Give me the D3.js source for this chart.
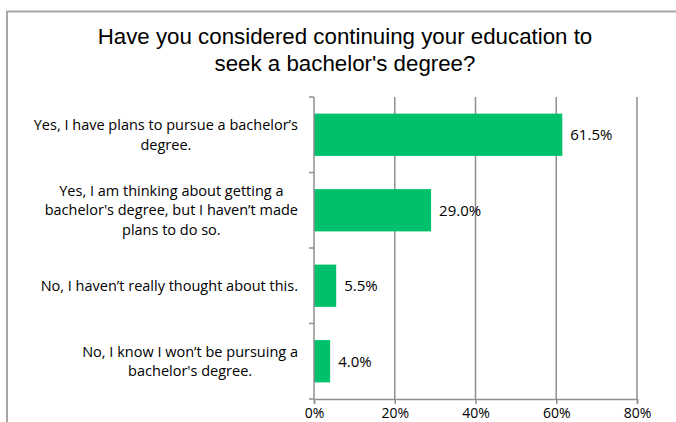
<!DOCTYPE html>
<html lang="en">
<head>
<meta charset="UTF-8">
<title>Bachelor's degree survey</title>
<script src="https://d3js.org/d3.v7.min.js"></script>
<style>
  body { margin: 0; background: #fff; }
  svg { display: block; }
  .cat-label, .val-label, .x.axis text { font-family: "Open Sans", sans-serif; fill: #000; }
  .title { font-family: "Liberation Sans", Arial, sans-serif; fill: #000; }
</style>
</head>
<body>
<script>
var categories = [
  ["Yes, I have plans to pursue a bachelor\u2019s", "degree."],
  ["Yes, I am thinking about getting a", "bachelor's degree, but I haven\u2019t made", "plans to do so."],
  ["No, I haven\u2019t really thought about this."],
  ["No, I know I won\u2019t be pursuing a", "bachelor's degree."]
];
var values = [61.5, 29.0, 5.5, 4.0];
var xTicks = [0, 20, 40, 60, 80];
var titleLines = ["Have you considered continuing your education to", "seek a bachelor's degree?"];

var W = 676, H = 422;
var margin = {top: 97, left: 314, right: 39, bottom: 23};
var width = W - margin.left - margin.right;
var height = H - margin.top - margin.bottom;

var svg = d3.select("body").append("svg")
    .attr("width", W)
    .attr("height", H);

// outer chart border (cropped screenshot: only left & top visible)
svg.append("path")
    .attr("d", "M7,422 V11.5 H676")
    .attr("fill", "none")
    .attr("stroke", "#a6a6a6")
    .attr("stroke-width", 2);

svg.selectAll(".title")
    .data(titleLines)
    .enter()
    .append("text")
    .classed("title", true)
    .attr("x", 345)
    .attr("y", function(d, i) { return 44 + i * 27; })
    .attr("text-anchor", "middle")
    .style("font-size", "22.3px")
    .text(function(d) { return d; });

var x = d3.scaleLinear().domain([0, 80]).range([0, width]);
var y = d3.scaleBand()
    .domain(d3.range(values.length))
    .range([0, height])
    .paddingInner(0.44)
    .paddingOuter(0.22);

var chart = svg.append("g")
    .attr("transform", "translate(" + margin.left + "," + margin.top + ")");

// vertical gridlines
chart.append("g")
    .selectAll("line")
    .data(xTicks.slice(1))
    .enter()
    .append("line")
    .attr("x1", function(d) { return x(d); })
    .attr("x2", function(d) { return x(d); })
    .attr("y1", 0)
    .attr("y2", height)
    .attr("stroke", "#8f8f8f")
    .attr("stroke-width", 1.5);

// bars
chart.selectAll(".bar")
    .data(values)
    .enter()
    .append("rect")
    .classed("bar", true)
    .attr("x", 0)
    .attr("y", function(d, i) { return y(i); })
    .attr("width", function(d) { return x(d); })
    .attr("height", y.bandwidth())
    .attr("fill", "#00c16b");

// value labels
chart.selectAll(".val-label")
    .data(values)
    .enter()
    .append("text")
    .classed("val-label", true)
    .attr("x", function(d) { return x(d) + 8; })
    .attr("y", function(d, i) { return y(i) + y.bandwidth() / 2; })
    .attr("dy", "0.35em")
    .style("font-size", "15px")
    .text(function(d) { return d.toFixed(1) + "%"; });

// x axis
var xAxis = d3.axisBottom(x)
    .tickValues(xTicks)
    .tickSize(5)
    .tickPadding(4)
    .tickFormat(function(d) { return d + "%"; });

var gx = chart.append("g")
    .classed("x axis", true)
    .attr("transform", "translate(0," + height + ")")
    .call(xAxis);
gx.select(".domain").attr("stroke", "#8f8f8f").attr("stroke-width", 1.5);
gx.selectAll(".tick line").attr("stroke", "#8f8f8f").attr("stroke-width", 1.5);
gx.selectAll("text").style("font-size", "14px").attr("fill", "#000");

// y axis line with category separators
var bandEdges = d3.range(values.length + 1).map(function(i) { return i * y.step(); });
chart.append("line")
    .attr("x1", 0).attr("x2", 0)
    .attr("y1", 0).attr("y2", height)
    .attr("stroke", "#8f8f8f")
    .attr("stroke-width", 1.5);
chart.append("g")
    .selectAll("line")
    .data(bandEdges)
    .enter()
    .append("line")
    .attr("x1", -5).attr("x2", 0)
    .attr("y1", function(d) { return d; })
    .attr("y2", function(d) { return d; })
    .attr("stroke", "#8f8f8f")
    .attr("stroke-width", 1.5);

// category labels: block right-aligned, lines centred inside the block
var lineH = 19.5;
var labelRight = -16;
categories.forEach(function(lines, i) {
    var g = chart.append("g").classed("cat-label-group", true);
    var texts = g.selectAll("text")
        .data(lines)
        .enter()
        .append("text")
        .classed("cat-label", true)
        .attr("text-anchor", "middle")
        .style("font-size", "14.5px")
        .text(function(d) { return d; });
    var maxW = d3.max(texts.nodes(), function(n) { return n.getComputedTextLength(); });
    var cy = y(i) + y.bandwidth() / 2;
    var top = cy - (lines.length - 1) * lineH / 2;
    texts.attr("x", labelRight - maxW / 2)
        .attr("y", function(d, j) { return top + j * lineH; })
        .attr("dy", "0.35em");
});
</script>
</body>
</html>
